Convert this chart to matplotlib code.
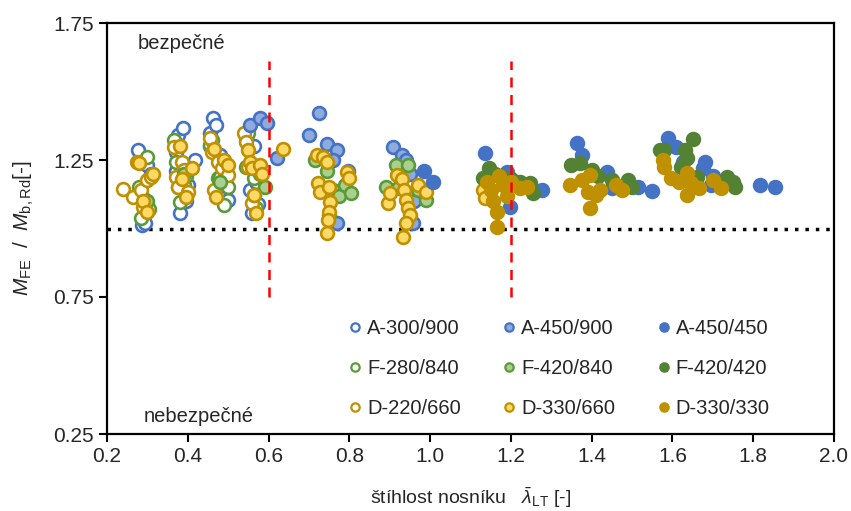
import matplotlib
matplotlib.use("Agg")
import matplotlib.pyplot as plt

plt.rcParams['font.family'] = ['Liberation Sans', 'DejaVu Sans']
plt.rcParams['mathtext.fontset'] = 'custom'
plt.rcParams['mathtext.rm'] = 'Liberation Sans'
plt.rcParams['mathtext.it'] = 'Liberation Sans:italic'

# series: (label, x, y)
a300_x = [0.277, 0.287, 0.293, 0.30, 0.31, 0.295, 0.37, 0.375, 0.388, 0.38, 0.395, 0.418, 0.372, 0.40,
          0.455, 0.462, 0.47, 0.48, 0.49, 0.50, 0.455, 0.47, 0.545, 0.555, 0.56, 0.565, 0.57, 0.575]
a300_y = [1.287, 1.013, 1.02, 1.23, 1.20, 1.10, 1.279, 1.34, 1.367, 1.057, 1.10, 1.25, 1.21, 1.16,
          1.349, 1.403, 1.378, 1.268, 1.195, 1.104, 1.30, 1.14, 1.334, 1.14, 1.057, 1.30, 1.17, 1.09]

f280_x = [0.28, 0.285, 0.29, 0.30, 0.305, 0.365, 0.37, 0.375, 0.38, 0.39, 0.395,
          0.455, 0.46, 0.475, 0.48, 0.49, 0.50, 0.545, 0.55, 0.565, 0.57, 0.58]
f280_y = [1.151, 1.04, 1.11, 1.26, 1.07, 1.323, 1.243, 1.15, 1.097, 1.159, 1.19,
          1.305, 1.323, 1.184, 1.188, 1.086, 1.15, 1.224, 1.349, 1.184, 1.075, 1.20]

d220_x = [0.24, 0.265, 0.275, 0.285, 0.29, 0.30, 0.31, 0.365, 0.37, 0.375, 0.385, 0.39, 0.40,
          0.455, 0.46, 0.465, 0.475, 0.485, 0.50, 0.54, 0.545, 0.55, 0.56]
d220_y = [1.144, 1.115, 1.243, 1.14, 1.078, 1.177, 1.188, 1.297, 1.188, 1.151, 1.243, 1.213, 1.133,
          1.33, 1.279, 1.14, 1.243, 1.22, 1.195, 1.349, 1.316, 1.224, 1.093]

a450_900_x = [0.555, 0.579, 0.595, 0.62, 0.70, 0.725, 0.745, 0.77, 0.797, 0.77, 0.76,
              0.908, 0.93, 0.94, 0.96, 0.957, 0.95]
a450_900_y = [1.378, 1.403, 1.385, 1.257, 1.34, 1.42, 1.31, 1.286, 1.21, 1.02, 1.25,
              1.297, 1.268, 1.25, 1.10, 1.02, 1.20]

f420_840_x = [0.30, 0.39, 0.48, 0.565, 0.59, 0.715, 0.745, 0.76, 0.775, 0.79, 0.805, 0.75,
              0.89, 0.915, 0.92, 0.945, 0.97, 0.99]
f420_840_y = [1.10, 1.20, 1.17, 1.122, 1.15, 1.25, 1.21, 1.14, 1.12, 1.16, 1.13, 1.05,
              1.15, 1.23, 1.148, 1.23, 1.14, 1.104]

d330_660_x = [0.28, 0.29, 0.30, 0.315, 0.38, 0.385, 0.395, 0.41, 0.465, 0.47, 0.49, 0.50,
              0.55, 0.555, 0.56, 0.565, 0.57, 0.58, 0.585, 0.636,
              0.72, 0.722, 0.727, 0.735, 0.745, 0.75, 0.752, 0.75, 0.748, 0.745, 0.795, 0.80,
              0.896, 0.90, 0.918, 0.93, 0.935, 0.94, 0.945, 0.95, 0.94, 0.933, 0.97, 0.99,
              1.13, 1.135]
d330_660_y = [1.24, 1.10, 1.06, 1.20, 1.30, 1.18, 1.115, 1.22, 1.29, 1.115, 1.25, 1.23,
              1.286, 1.243, 1.22, 1.122, 1.057, 1.232, 1.20, 1.29,
              1.268, 1.166, 1.133, 1.26, 1.243, 1.151, 1.097, 1.06, 1.03, 0.984, 1.206, 1.184,
              1.093, 1.13, 1.195, 1.18, 1.14, 1.104, 1.075, 1.05, 1.02, 0.97, 1.16, 1.133,
              1.14, 1.11]

a450_450_x = [0.985, 1.007, 1.136, 1.19, 1.198, 1.21, 1.277, 1.363, 1.375, 1.437, 1.45, 1.514, 1.549,
              1.589, 1.61, 1.625, 1.68, 1.675, 1.70, 1.695, 1.816, 1.853]
a450_450_y = [1.21, 1.17, 1.276, 1.206, 1.078, 1.17, 1.14, 1.312, 1.268, 1.206, 1.148, 1.152, 1.137,
              1.33, 1.297, 1.243, 1.243, 1.22, 1.19, 1.16, 1.159, 1.152]

f420_420_x = [1.13, 1.145, 1.16, 1.175, 1.20, 1.222, 1.247, 1.255, 1.35, 1.37, 1.40, 1.415, 1.45, 1.49, 1.50,
              1.569, 1.58, 1.63, 1.65, 1.635, 1.62, 1.66, 1.735, 1.75, 1.755]
f420_420_y = [1.184, 1.22, 1.20, 1.19, 1.18, 1.17, 1.166, 1.13, 1.232, 1.24, 1.213, 1.19, 1.177, 1.177, 1.15,
              1.287, 1.287, 1.287, 1.327, 1.257, 1.224, 1.188, 1.188, 1.17, 1.151]

d330_330_x = [1.14, 1.15, 1.155, 1.165, 1.17, 1.18, 1.19, 1.20, 1.222, 1.24, 1.165,
              1.346, 1.375, 1.395, 1.39, 1.41, 1.42, 1.395, 1.46, 1.475,
              1.576, 1.58, 1.597, 1.617, 1.635, 1.645, 1.635, 1.665, 1.70, 1.72]
d330_330_y = [1.17, 1.14, 1.10, 1.06, 1.19, 1.16, 1.12, 1.17, 1.148, 1.15, 1.005,
              1.159, 1.177, 1.195, 1.133, 1.122, 1.14, 1.075, 1.159, 1.14,
              1.25, 1.224, 1.184, 1.17, 1.202, 1.166, 1.122, 1.148, 1.177, 1.148]

blue = '#4472C4'
green = '#5B9A3A'
gold = '#BF9000'

# label, x, y, face, edge  (legend order = column by column)
series = [
    ('A-300/900', a300_x, a300_y, 'white', blue),
    ('F-280/840', f280_x, f280_y, 'white', green),
    ('D-220/660', d220_x, d220_y, 'white', gold),
    ('A-450/900', a450_900_x, a450_900_y, '#8FAADC', blue),
    ('F-420/840', f420_840_x, f420_840_y, '#A9D18E', green),
    ('D-330/660', d330_660_x, d330_660_y, '#FFD966', gold),
    ('A-450/450', a450_450_x, a450_450_y, blue, blue),
    ('F-420/420', f420_420_x, f420_420_y, '#548235', '#548235'),
    ('D-330/330', d330_330_x, d330_330_y, gold, gold),
]

txt = '#262626'

fig = plt.figure(figsize=(8.51, 5.11), dpi=100)
ax = fig.add_axes([107 / 851, 1 - 434 / 511, 727 / 851, 411 / 511])

handles = []
for label, xs, ys, fc, ec in series:
    ax.scatter(xs, ys, s=85, facecolor=fc, edgecolor=ec, linewidth=1.9, zorder=3)
    h, = ax.plot([], [], 'o', markersize=6, markerfacecolor=fc, markeredgecolor=ec,
                 markeredgewidth=1.6, linestyle='none', label=label)
    handles.append(h)

ax.axhline(1.0, color='black', linestyle=(0, (1, 2)), linewidth=2.5, zorder=2)
ax.plot([0.6, 0.6], [0.75, 1.61], color='red', linestyle=(0, (4, 3)), linewidth=1.8, zorder=4)
ax.plot([1.2, 1.2], [0.75, 1.61], color='red', linestyle=(0, (4, 3)), linewidth=1.8, zorder=4)

ax.text(0.275, 1.675, 'bezpečné', fontsize=14.5, va='center', ha='left', color=txt)
ax.text(0.29, 0.315, 'nebezpečné', fontsize=14.5, va='center', ha='left', color=txt)

ax.set_xlim(0.2, 2.0)
ax.set_ylim(0.25, 1.75)
ax.set_xticks([0.2, 0.4, 0.6, 0.8, 1.0, 1.2, 1.4, 1.6, 1.8, 2.0])
ax.set_xticklabels(['0.2', '0.4', '0.6', '0.8', '1.0', '1.2', '1.4', '1.6', '1.8', '2.0'])
ax.set_yticks([0.25, 0.75, 1.25, 1.75])
ax.tick_params(labelsize=15, direction='out', length=6, width=1.5, labelcolor=txt)
for sp in ax.spines.values():
    sp.set_linewidth(1.6)

ax.set_xlabel(r'štíhlost nosníku   $\bar{\lambda}_{\mathrm{LT}}$ [-]', fontsize=14, labelpad=14, color=txt)
ax.set_ylabel(r'$M_{\mathrm{FE}}$  /  $M_{\mathrm{b,Rd}}$[-]', fontsize=15, labelpad=12, color=txt)

fig.legend(handles=handles, ncol=3, frameon=False, fontsize=14.5, labelcolor=txt,
           loc='upper left', bbox_to_anchor=(327 / 851, 1 - 301 / 511),
           handletextpad=0.1, columnspacing=1.9, labelspacing=1.05, handlelength=1.0)

fig.savefig('out.png', dpi=100)
